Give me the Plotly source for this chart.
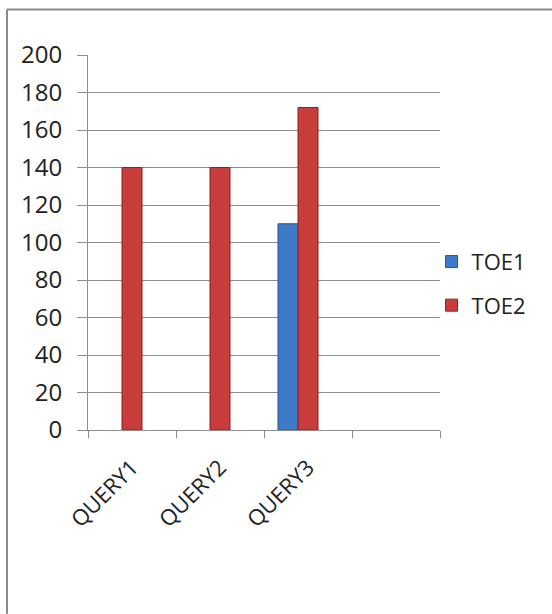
import plotly.graph_objects as go

categories = ["QUERY1", "QUERY2", "QUERY3", " "]
toe1 = [None, None, 110, None]
toe2 = [140, 140, 172, None]
spare = [None, None, None, None]
y_ticks = [0, 20, 40, 60, 80, 100, 120, 140, 160, 180, 200]

FONT = "Open Sans"
GRID = "#8c8c8c"
BORDER = "#8a8a8a"

fig = go.Figure()
fig.add_trace(go.Bar(
    x=categories, y=toe1, name="TOE1", legendgroup="a",
    marker=dict(color="#3d7bc9", line=dict(color="#27568f", width=1)),
))
fig.add_trace(go.Bar(
    x=categories, y=toe2, name="TOE2", legendgroup="b",
    marker=dict(color="#c83c3c", line=dict(color="#842424", width=1)),
))
fig.add_trace(go.Bar(
    x=categories, y=spare, name="", showlegend=False, hoverinfo="skip",
    marker=dict(color="rgba(0,0,0,0)"),
))

PW, PH = 352, 375.5
fig.update_layout(
    width=552, height=614,
    margin=dict(l=88, r=112, t=55, b=184),
    paper_bgcolor="white", plot_bgcolor="white",
    barmode="group", bargap=0.318, bargroupgap=0,
    font=dict(family=FONT, size=22, color="#222222"),
    showlegend=True,
    legend=dict(
        x=0.976, y=0.39, xanchor="left", yanchor="middle",
        font=dict(family=FONT, size=22, color="#222222"),
        tracegroupgap=12, traceorder="grouped",
        bgcolor="rgba(0,0,0,0)",
    ),
    xaxis=dict(
        type="category", categoryorder="array", categoryarray=categories,
        showline=True, linecolor=GRID, linewidth=1,
        ticks="outside", tickson="boundaries", ticklen=7, tickcolor=GRID,
        tickangle=-45, showgrid=False,
        tickfont=dict(family=FONT, size=22, color="#222222"),
        ticklabelstandoff=15,
    ),
    yaxis=dict(
        range=[0, 200], tickvals=y_ticks,
        showline=True, linecolor=GRID, linewidth=1,
        ticks="outside", ticklen=10, tickcolor=GRID,
        showgrid=True, gridcolor=GRID, gridwidth=1,
        zeroline=False, ticklabelstandoff=10,
        tickfont=dict(family=FONT, size=24, color="#222222"),
    ),
)

# chart-area border (top and left edges only, as in the reference)
fig.add_shape(type="line", xref="paper", yref="paper",
              x0=(7 - 88) / PW, x1=(552 - 88) / PW,
              y0=(430 - 9) / PH, y1=(430 - 9) / PH,
              line=dict(color=BORDER, width=2))
fig.add_shape(type="line", xref="paper", yref="paper",
              x0=(7 - 88) / PW, x1=(7 - 88) / PW,
              y0=(430 - 9) / PH, y1=(430 - 614) / PH,
              line=dict(color=BORDER, width=2))

fig.write_html("out.html")
